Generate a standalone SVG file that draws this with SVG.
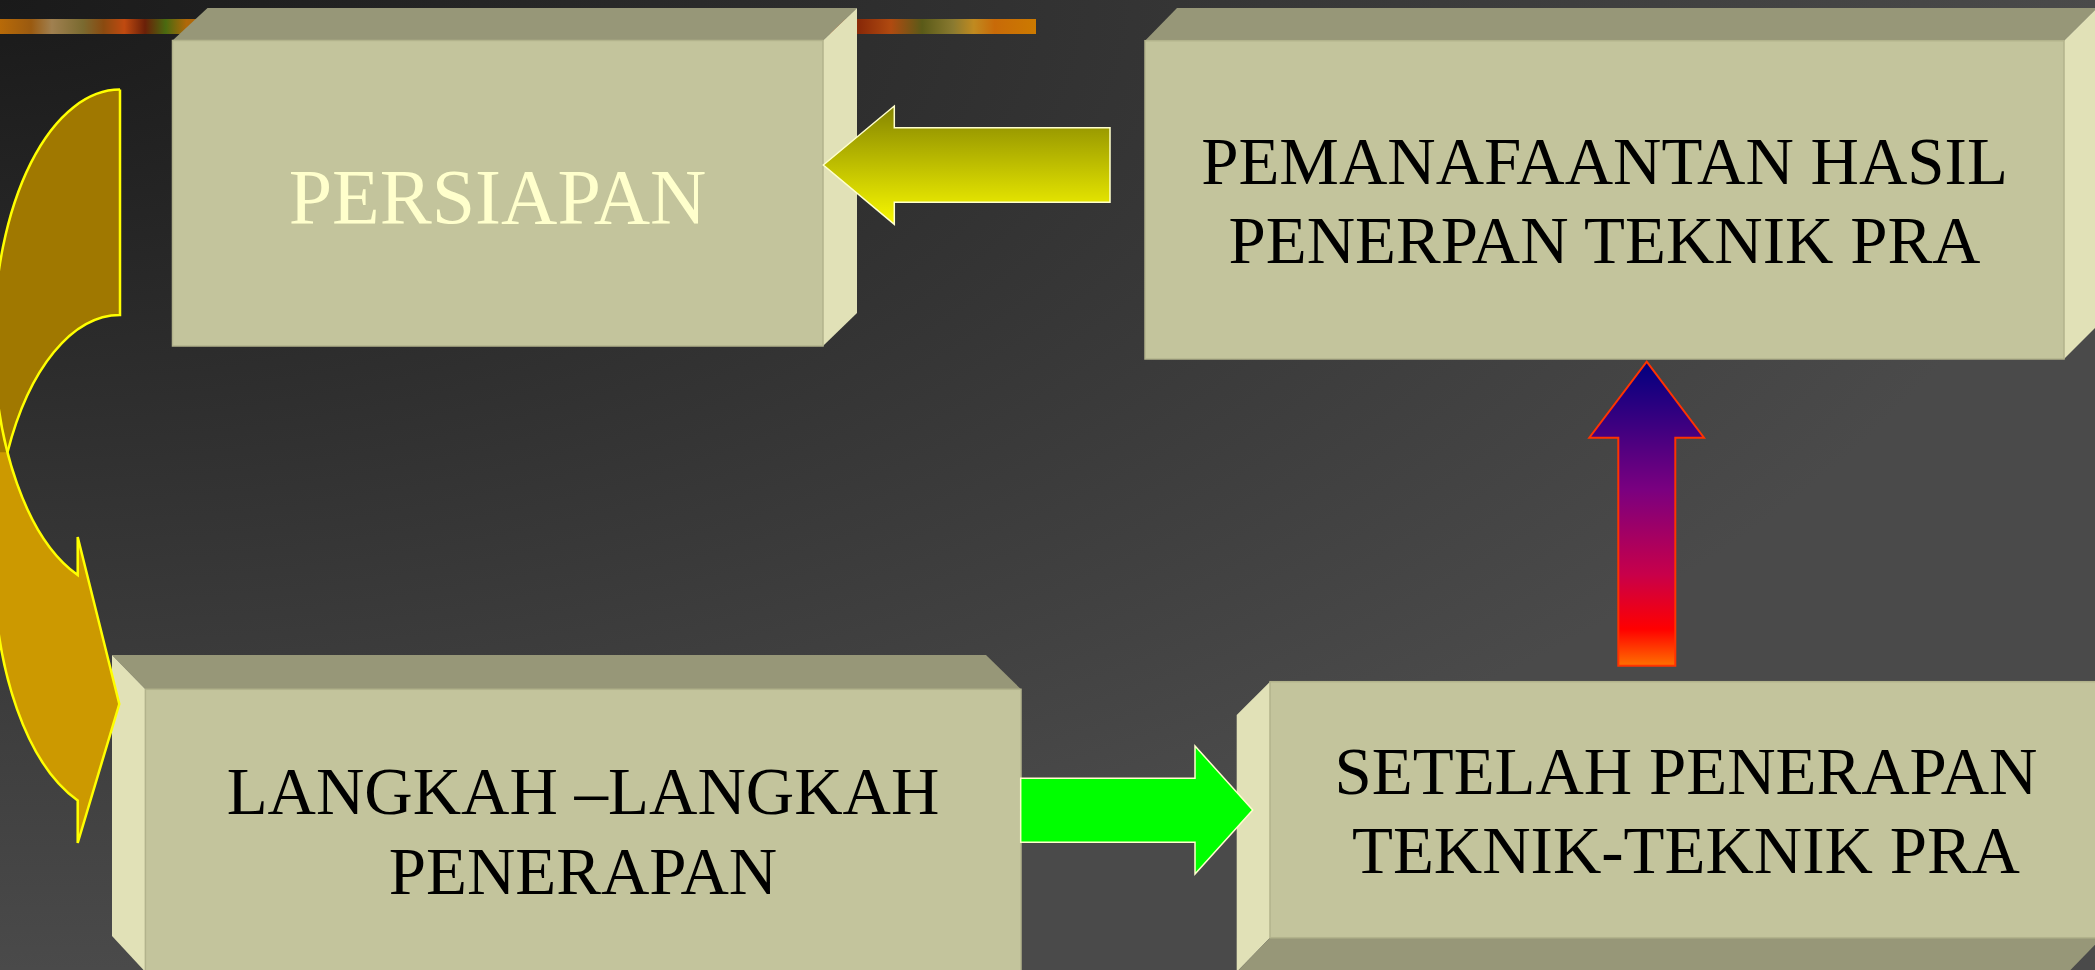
<svg xmlns="http://www.w3.org/2000/svg" width="2095" height="970" viewBox="0 0 2095 970">
<defs>
<radialGradient id="bg" gradientUnits="objectBoundingBox" cx="0" cy="0" r="1" fx="0" fy="0">
<stop offset="0" stop-color="#1a1a1a"/>
<stop offset="1" stop-color="#4a4a4a"/>
</radialGradient>
<linearGradient id="bar" x1="0" y1="0" x2="1" y2="0">
<stop offset="0" stop-color="#b86a08"/>
<stop offset="0.03" stop-color="#9a5a10"/>
<stop offset="0.05" stop-color="#a08050"/>
<stop offset="0.08" stop-color="#7a6a30"/>
<stop offset="0.1" stop-color="#8a4a10"/>
<stop offset="0.12" stop-color="#c04a10"/>
<stop offset="0.14" stop-color="#6a2008"/>
<stop offset="0.16" stop-color="#4a6a10"/>
<stop offset="0.18" stop-color="#b06808"/>
<stop offset="0.5" stop-color="#9a5010"/>
<stop offset="0.83" stop-color="#8a2a08"/>
<stop offset="0.86" stop-color="#b04a10"/>
<stop offset="0.89" stop-color="#5a5a18"/>
<stop offset="0.92" stop-color="#8a7a30"/>
<stop offset="0.94" stop-color="#c08a20"/>
<stop offset="0.96" stop-color="#c86a08"/>
<stop offset="1" stop-color="#cc7a00"/>
</linearGradient>
<linearGradient id="yel" x1="0" y1="0" x2="0" y2="1">
<stop offset="0" stop-color="#858500"/>
<stop offset="1" stop-color="#f8f800"/>
</linearGradient>
<linearGradient id="fire" x1="0" y1="0" x2="0" y2="1">
<stop offset="0" stop-color="#000080"/>
<stop offset="0.42" stop-color="#7a0080"/>
<stop offset="0.7" stop-color="#c8004a"/>
<stop offset="0.88" stop-color="#ff0000"/>
<stop offset="1" stop-color="#ff7000"/>
</linearGradient>
<style>
.front{fill:#c3c49c;stroke:#b2b38c;stroke-width:1.5}
.top{fill:#979778}
.side{fill:#e1e1b7}
.lbl{font-family:"Liberation Serif","Times New Roman",serif;font-size:67px;fill:#000;text-anchor:middle}
.ar{stroke:#ffffcc;stroke-width:1.5;stroke-linejoin:miter}
</style>
</defs>
<rect width="2095" height="970" fill="url(#bg)"/>
<rect x="0" y="19" width="1036" height="15" fill="url(#bar)"/>

<g id="persiapan">
<polygon class="top" points="172.5,40.5 207.5,8 857,8 823,40.5"/>
<polygon class="side" points="823,40.5 857,8 857,313 823,346"/>
<rect class="front" x="172.5" y="40.5" width="650.5" height="305.5"/>
<text x="497.5" y="223" style="font-family:'Liberation Serif','Times New Roman',serif;font-size:78px;fill:#ffffcc;text-anchor:middle">PERSIAPAN</text>
</g>

<g id="pemanfaatan">
<polygon class="top" points="1145,40.7 1177,8 2097,8 2064,40.7"/>
<polygon class="side" points="2064,40.7 2097,8 2097,326 2064,359"/>
<rect class="front" x="1145" y="40.7" width="919" height="318.3"/>
<text class="lbl" x="1604.5" y="184.3">PEMANAFAANTAN HASIL</text>
<text class="lbl" x="1604.5" y="263.3">PENERPAN TEKNIK PRA</text>
</g>

<g id="langkah">
<polygon class="top" points="145.4,689.3 112,655 986,655 1021,689.3"/>
<polygon class="side" points="112,655 145.4,689.3 145.4,972 112,936"/>
<rect class="front" x="145.4" y="689.3" width="875.6" height="284"/>
<text class="lbl" x="583" y="813.5">LANGKAH –LANGKAH</text>
<text class="lbl" x="583" y="893.5">PENERAPAN</text>
</g>

<g id="setelah">
<polygon class="side" points="1236.7,715 1270,681.7 1270,937.7 1236.7,972"/>
<polygon class="top" points="1270,937.7 2102,937.7 2068.5,972 1236.7,972"/>
<rect class="front" x="1270" y="681.7" width="832" height="256"/>
<text class="lbl" x="1686" y="794.3">SETELAH PENERAPAN</text>
<text class="lbl" x="1686" y="873.3">TEKNIK-TEKNIK PRA</text>
</g>

<g id="connectors">
<g id="curved-arrow">
<path d="M-6,339.6 A126,250 0 0 0 77.7,575.1 L77.7,537 L119.3,704 L77.7,843 L77.7,800.5 A126,250 0 0 1 -6,565 Z" fill="#cc9900"/>
<path d="M120,89.6 A126,250 0 0 0 -6,339.6 L-6,452.3 L7.5,452.3 A126,250 0 0 1 120,315 Z" fill="#a07800"/>
<path d="M120,89.6 A126,250 0 0 0 -6,339.6 A126,250 0 0 0 77.7,575.1 L77.7,537 L119.3,704 L77.7,843 L77.7,800.5 A126,250 0 0 1 -6,565" fill="none" stroke="#ffff00" stroke-width="2.5"/>
<path d="M120,89.6 L120,315 A126,250 0 0 0 7.5,452.3" fill="none" stroke="#ffff00" stroke-width="2.5"/>
</g>
<polygon class="ar" fill="url(#yel)" points="823.3,165 894.3,106 894.3,127.7 1110,127.7 1110,202.3 894.3,202.3 894.3,224.3"/>
<polygon fill="url(#fire)" stroke="#ff3300" stroke-width="2" points="1646.7,361.7 1704,437.7 1675.3,437.7 1675.3,665.7 1618.3,665.7 1618.3,437.7 1589.3,437.7"/>
<polygon class="ar" fill="#00ff00" points="1020.7,778.3 1195,778.3 1195,746 1252.7,810 1195,874 1195,842.3 1020.7,842.3"/>
</g>
</svg>
